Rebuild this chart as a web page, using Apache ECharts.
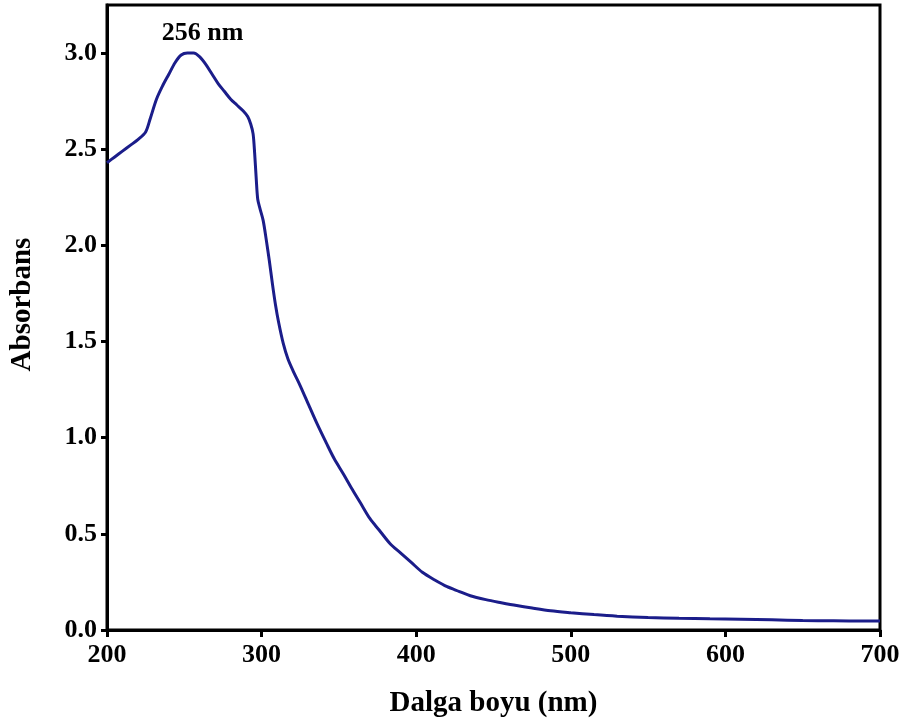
<!DOCTYPE html>
<html>
<head>
<meta charset="utf-8">
<script src="https://cdn.jsdelivr.net/npm/echarts@6/dist/echarts.min.js"></script>
<style>html,body{margin:0;padding:0;background:#fff}#c{width:903px;height:724px}</style>
</head>
<body>
<div id="c"></div>
<script>
const wavelength = [200,205,210,215,220,225,228,232,236,240,244,248,252,256,260,264,268,272,276,280,284,288,291,293,294.5,295.5,296.5,297.5,299,301,303,305,307,309,311,314,317,320.5,325,331,336,342,347,353,358,364,370,376,383,390,397,404,412,420,428,435,445,455,465,475,487,500,515,530,550,570,590,610,630,650,670,690,700];
const absorbance = [2.43,2.46,2.49,2.52,2.55,2.59,2.66,2.76,2.83,2.89,2.95,2.99,3.00,3.00,2.98,2.94,2.89,2.84,2.80,2.76,2.73,2.70,2.67,2.63,2.58,2.48,2.35,2.24,2.19,2.13,2.03,1.92,1.80,1.69,1.60,1.49,1.41,1.345,1.27,1.16,1.07,0.97,0.89,0.81,0.74,0.66,0.58,0.52,0.45,0.40,0.35,0.30,0.26,0.225,0.20,0.178,0.158,0.142,0.127,0.114,0.100,0.090,0.080,0.072,0.065,0.061,0.058,0.056,0.053,0.049,0.048,0.047,0.047];
const peakLabel = '256 nm';
const peakPoint = [256, 3.0];
const xTitle = 'Dalga boyu (nm)';
const yTitle = 'Absorbans';

const font = '"Liberation Serif","Times New Roman",serif';
const chart = echarts.init(document.getElementById('c'), null, {renderer: 'canvas'});
chart.setOption({
  animation: false,
  backgroundColor: '#fff',
  grid: {left: 107, top: 5, right: 23, bottom: 94, show: true, borderColor: '#000', borderWidth: 3, backgroundColor: 'transparent', outerBoundsMode: 'none', containLabel: false},
  xAxis: {
    type: 'value', min: 200, max: 700, interval: 100,
    name: xTitle, nameLocation: 'middle', nameGap: 59,
    nameTextStyle: {fontFamily: font, fontWeight: 'bold', fontSize: 29, color: '#000'},
    axisLine: {show: true, onZero: false, lineStyle: {color: '#000', width: 3}},
    axisTick: {show: true, length: 7, lineStyle: {color: '#000', width: 3}},
    axisLabel: {fontFamily: font, fontWeight: 'bold', fontSize: 26, color: '#000', margin: 12},
    splitLine: {show: false}
  },
  yAxis: {
    type: 'value', min: 0, max: 3.25, interval: 0.5,
    name: yTitle, nameLocation: 'middle', nameGap: 70, nameRotate: 90,
    nameTextStyle: {fontFamily: font, fontWeight: 'bold', fontSize: 29, color: '#000', padding: [0, 0, 0, 26]},
    axisLine: {show: true, onZero: false, lineStyle: {color: '#000', width: 3}},
    axisTick: {show: true, length: 6, lineStyle: {color: '#000', width: 3}},
    axisLabel: {fontFamily: font, fontWeight: 'bold', fontSize: 26, color: '#000', margin: 10, showMaxLabel: false,
      formatter: v => v.toFixed(1)},
    splitLine: {show: false}
  },
  series: [{
    type: 'line',
    data: wavelength.map((w, i) => [w, absorbance[i]]),
    showSymbol: false,
    smooth: 0.3,
    lineStyle: {color: '#1b1d8a', width: 3},
    markPoint: {
      symbol: 'circle', symbolSize: 0,
      data: [{coord: peakPoint}],
      label: {show: true, formatter: peakLabel, position: 'top', distance: 7, offset: [9, 0],
        fontFamily: font, fontWeight: 'bold', fontSize: 26, color: '#000'}
    }
  }]
});
</script>
</body>
</html>
